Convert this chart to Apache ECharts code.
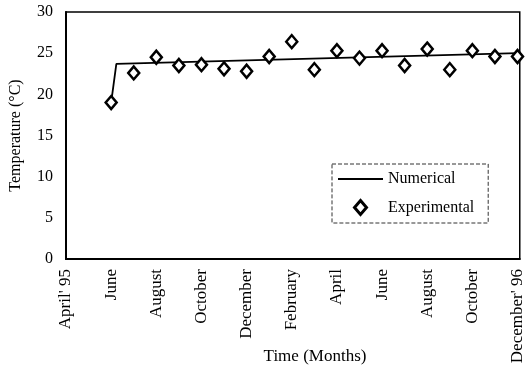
<!DOCTYPE html>
<html>
<head>
<meta charset="utf-8">
<script src="https://cdn.jsdelivr.net/npm/echarts@6/dist/echarts.min.js"></script>
<style>html,body{margin:0;padding:0;background:#fff}#c{width:526px;height:374px}</style>
</head>
<body>
<div id="c"></div>
<script>
// months since April 1995
var tickMonths = [0, 2, 4, 6, 8, 10, 12, 14, 16, 18, 20];
var tickLabels = ["April' 95", "June", "August", "October", "December", "February", "April", "June", "August", "October", "December' 96"];
var expMonths = [2, 3, 4, 5, 6, 7, 8, 9, 10, 11, 12, 13, 14, 15, 16, 17, 18, 19, 20];
var expTemps = [19.0, 22.6, 24.5, 23.5, 23.6, 23.1, 22.8, 24.6, 26.4, 23.0, 25.3, 24.4, 25.3, 23.5, 25.5, 23.0, 25.3, 24.6, 24.6];
var numMonths = [2, 2.23, 20];
var numTemps = [19.0, 23.7, 25.0];

var expData = expMonths.map(function (m, i) { return [m, expTemps[i]]; });
var numData = numMonths.map(function (m, i) { return [m, numTemps[i]]; });
var labelMap = {};
tickMonths.forEach(function (m, i) { labelMap[m] = tickLabels[i]; });

var font = 'Liberation Serif';
var chart = echarts.init(document.getElementById('c'), null, { renderer: 'canvas' });
chart.setOption({
  animation: false,
  backgroundColor: '#fff',
  grid: { left: 65, right: 3, top: 12, bottom: 115, show: true, borderColor: '#000', borderWidth: 1.5, backgroundColor: 'transparent' },
  xAxis: {
    type: 'value', min: 0, max: 20.1, interval: 2,
    axisLine: { show: true, onZero: false, lineStyle: { color: '#000', width: 2 } },
    axisTick: { show: false },
    splitLine: { show: false },
    axisLabel: {
      rotate: 90, margin: 10, color: '#000', fontFamily: font, fontSize: 17,
      showMaxLabel: false,
      formatter: function (v) { return labelMap[v] !== undefined ? labelMap[v] : ''; }
    }
  },
  yAxis: {
    type: 'value', min: 0, max: 30, interval: 5,
    name: 'Temperature (°C)', nameLocation: 'middle', nameGap: 42,
    nameTextStyle: { color: '#000', fontFamily: font, fontSize: 16 },
    axisLine: { show: true, lineStyle: { color: '#000', width: 2 } },
    axisTick: { show: false },
    splitLine: { show: false },
    axisLabel: { margin: 13, color: '#000', fontFamily: font, fontSize: 16 }
  },
  legend: {
    orient: 'vertical', left: 332, top: 164,
    padding: [7, 14, 7, 6], itemGap: 12, itemWidth: 45, itemHeight: 14,
    symbolKeepAspect: true,
    borderColor: '#333', borderWidth: 1, borderType: 'dashed',
    textStyle: { color: '#000', fontFamily: font, fontSize: 16 },
    data: [
      { name: 'Numerical', icon: 'path://M0,0 L45,0 L45,2 L0,2 Z' },
      { name: 'Experimental', icon: 'path://M6,0 L12,7 L6,14 L0,7 Z', itemStyle: { color: '#fff', borderColor: '#000', borderWidth: 3 } }
    ]
  },
  graphic: [{
    type: 'text', x: 315, y: 357,
    style: { text: 'Time (Months)', font: '17px "Liberation Serif"', fill: '#000', align: 'center', verticalAlign: 'middle' }
  }],
  series: [
    {
      name: 'Numerical', type: 'line', data: numData, symbol: 'none',
      lineStyle: { color: '#000', width: 1.8 }, itemStyle: { color: '#000' }, z: 2
    },
    {
      name: 'Experimental', type: 'scatter', data: expData, symbol: 'diamond', symbolSize: [11, 13],
      itemStyle: { color: '#fff', borderColor: '#000', borderWidth: 2.5, opacity: 1 }, z: 3
    }
  ]
});
</script>
</body>
</html>
